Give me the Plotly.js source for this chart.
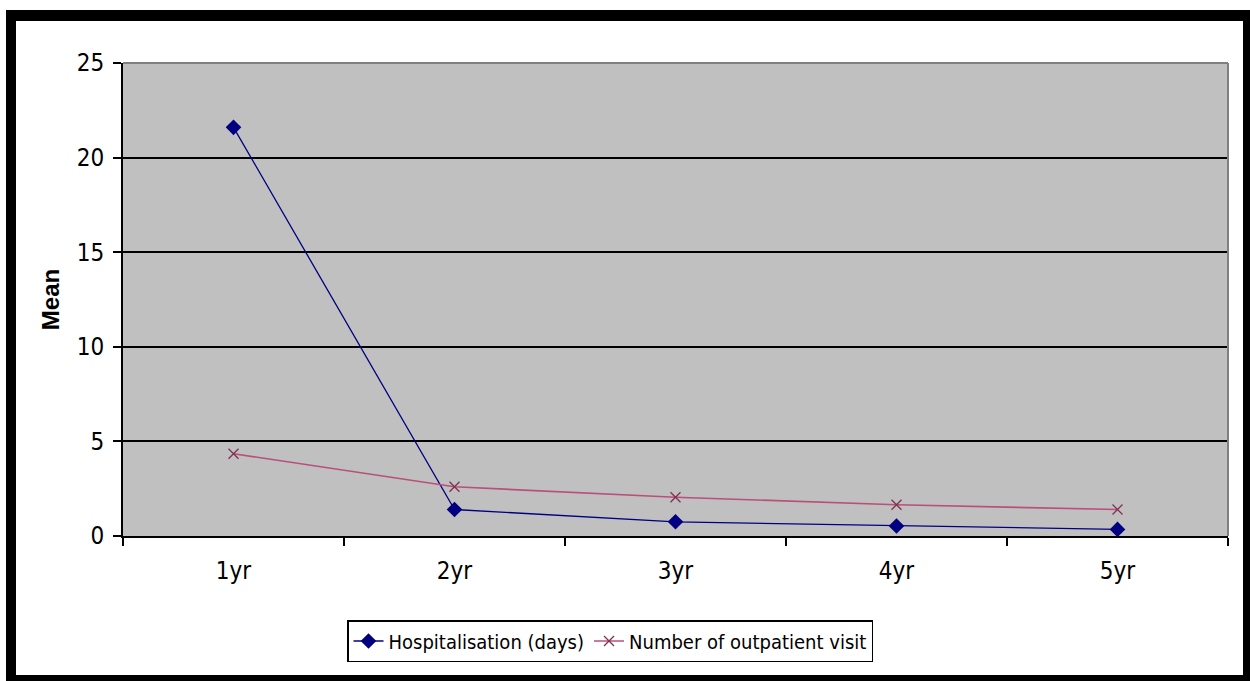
<!DOCTYPE html>
<html>
<head>
<meta charset="utf-8">
<script src="https://cdn.plot.ly/plotly-3.0.1.min.js"></script>
<style>html,body{margin:0;padding:0;background:#fff;}#chart{width:1250px;height:681px;}</style>
</head>
<body>
<div id="chart"></div>
<script>
var categories = ["1yr", "2yr", "3yr", "4yr", "5yr"];
var hospitalisation = [21.6, 1.4, 0.75, 0.53, 0.35];
var outpatient = [4.35, 2.6, 2.05, 1.65, 1.4];
var seriesNames = ["Hospitalisation (days)", "Number of outpatient visit"];
var yTicks = [0, 5, 10, 15, 20, 25];

var L = 123, R = 1228, T = 63, B = 536;
function px(x) { return (x - L) / (R - L); }
function py(y) { return (B - y) / (B - T); }

var narrow = '"Liberation Sans Narrow", "Arial Narrow", "DejaVu Sans Condensed", sans-serif';

var traces = [
  {
    x: categories, y: hospitalisation, name: seriesNames[0],
    type: 'scatter', mode: 'lines+markers',
    line: {color: '#000080', width: 1.3},
    marker: {symbol: 'diamond', size: 12, color: '#000080'}
  },
  {
    x: categories, y: outpatient, name: seriesNames[1],
    type: 'scatter', mode: 'lines+markers',
    line: {color: '#b8507a', width: 1.6},
    marker: {symbol: 'x-thin', size: 10, color: '#803050', line: {color: '#803050', width: 1.3}}
  }
];

function rect(x0, y0, x1, y1) {
  return {type: 'rect', xref: 'paper', yref: 'paper', x0: px(x0), x1: px(x1), y0: py(y0), y1: py(y1),
          fillcolor: '#000', line: {width: 0}, layer: 'above'};
}

var layout = {
  width: 1250, height: 681,
  margin: {l: L, r: 1250 - R, t: T, b: 681 - B},
  paper_bgcolor: '#ffffff',
  plot_bgcolor: '#c0c0c0',
  font: {family: narrow, size: 24, color: '#000'},
  showlegend: true,
  legend: {
    orientation: 'h', x: px(610), xanchor: 'center', y: py(620), yanchor: 'top',
    bgcolor: '#ffffff', bordercolor: '#000', borderwidth: 1.5,
    font: {family: narrow, size: 20, color: '#000'},
    itemwidth: 30, tracegroupgap: 0
  },
  xaxis: {
    type: 'category', range: [-0.5, 4.5],
    showline: true, linecolor: '#000', linewidth: 2,
    ticks: 'outside', tickson: 'boundaries', ticklen: 8, tickcolor: '#000', tickwidth: 2,
    ticklabelstandoff: 12,
    showgrid: false, zeroline: false,
    tickfont: {family: narrow, size: 24, color: '#000'}
  },
  yaxis: {
    range: [0, 25], tickvals: yTicks, ticktext: yTicks.map(String),
    showline: true, linecolor: '#000', linewidth: 2,
    ticks: 'outside', ticklen: 8, tickcolor: '#000', tickwidth: 2,
    ticklabelstandoff: 4,
    showgrid: true, gridcolor: '#000', gridwidth: 2, zeroline: false,
    tickfont: {family: narrow, size: 24, color: '#000'},
    title: {text: 'Mean', font: {family: '"Liberation Sans", Arial, sans-serif', size: 24, color: '#000', weight: 'bold'}, standoff: 10}
  },
  shapes: [
    {type: 'line', xref: 'paper', yref: 'paper', x0: 0, x1: 1, y0: 1, y1: 1, line: {color: '#808080', width: 2}, layer: 'above'},
    {type: 'line', xref: 'paper', yref: 'paper', x0: 1, x1: 1, y0: 0, y1: 1, line: {color: '#808080', width: 2}, layer: 'above'},
    rect(6, 10, 1250, 21),
    rect(6, 10, 16, 681),
    rect(1243, 10, 1250, 681),
    rect(6, 675, 1250, 681)
  ]
};

Plotly.newPlot('chart', traces, layout, {displayModeBar: false, staticPlot: true});
</script>
</body>
</html>
